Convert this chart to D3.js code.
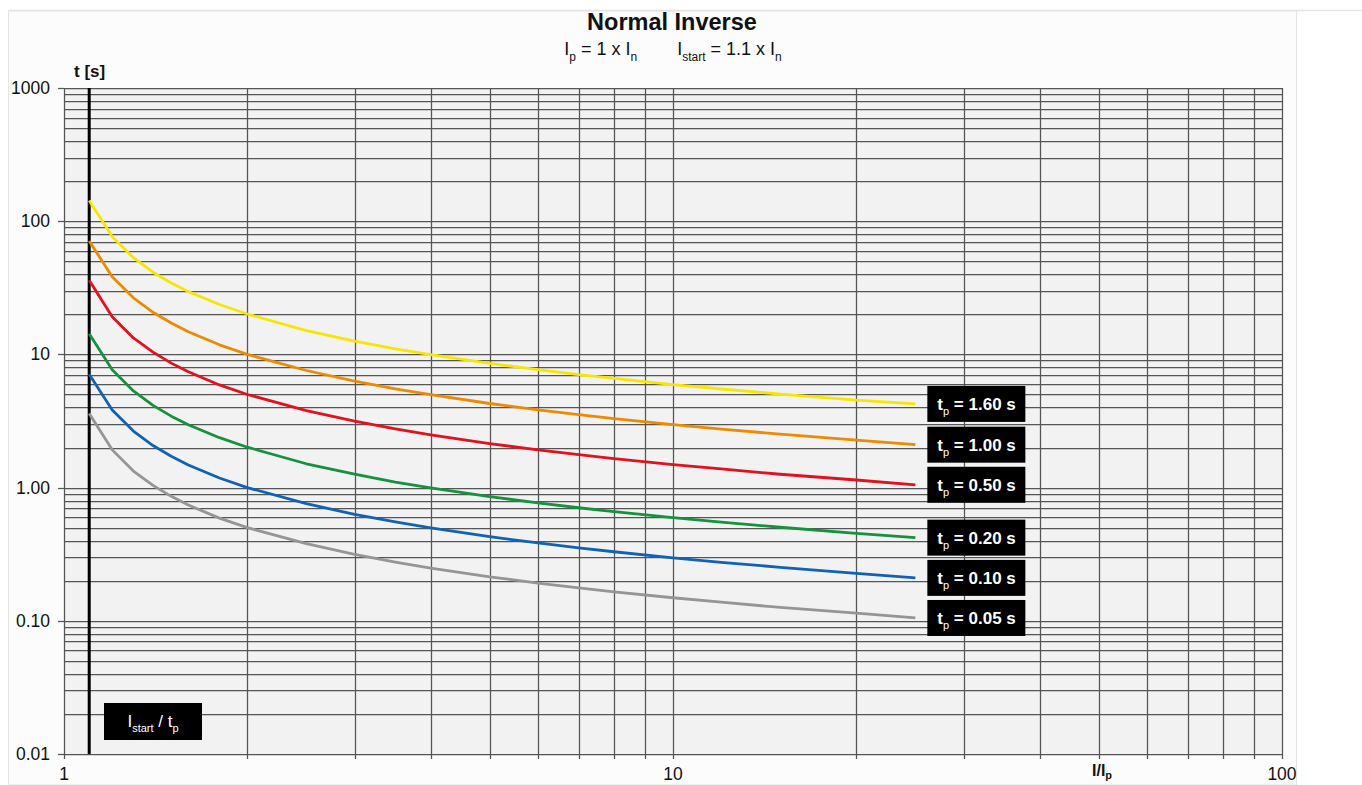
<!DOCTYPE html>
<html>
<head>
<meta charset="utf-8">
<script src="https://cdn.jsdelivr.net/npm/d3@7"></script>
<style>
  html, body { margin: 0; padding: 0; background: #ffffff; }
  svg { display: block; font-family: "Liberation Sans", Arial, sans-serif; }
</style>
</head>
<body>
<svg id="chart" width="1362" height="785"></svg>
<script>
// ---- Data ----
const currentRatio = [1.1, 1.2, 1.3, 1.4, 1.5, 1.6, 1.8, 2, 2.5, 3, 3.5, 4, 5, 6, 7, 8, 10, 12, 15, 20, 25];
const t_160 = [143, 76.6, 53.2, 41.4, 34.4, 29.6, 23.7, 20.1, 15.1, 12.6, 11.0, 9.96, 8.56, 7.68, 7.06, 6.60, 5.94, 5.50, 5.04, 4.54, 4.25];
const t_100 = [71, 38.3, 26.6, 20.7, 17.2, 14.8, 11.8, 10.0, 7.57, 6.30, 5.52, 4.98, 4.28, 3.84, 3.53, 3.30, 2.97, 2.75, 2.52, 2.27, 2.10];
const t_050 = [36, 19.2, 13.3, 10.4, 8.6, 7.4, 5.9, 5.0, 3.79, 3.15, 2.76, 2.49, 2.14, 1.92, 1.77, 1.65, 1.49, 1.38, 1.26, 1.14, 1.05];
const t_020 = [14.3, 7.66, 5.32, 4.14, 3.44, 2.96, 2.37, 2.01, 1.51, 1.26, 1.10, 0.996, 0.856, 0.768, 0.706, 0.660, 0.594, 0.550, 0.504, 0.454, 0.421];
const t_010 = [7.1, 3.83, 2.66, 2.07, 1.72, 1.48, 1.18, 1.00, 0.757, 0.630, 0.552, 0.498, 0.428, 0.384, 0.353, 0.330, 0.297, 0.275, 0.252, 0.227, 0.210];
const t_005 = [3.6, 1.92, 1.33, 1.04, 0.86, 0.74, 0.59, 0.50, 0.379, 0.315, 0.276, 0.249, 0.214, 0.192, 0.177, 0.165, 0.149, 0.138, 0.126, 0.114, 0.105];
const seriesLabels = ["1.60", "1.00", "0.50", "0.20", "0.10", "0.05"];
const seriesColors = ["#f7e600", "#ee8a00", "#e3101e", "#14923c", "#1062b6", "#959595"];
const yTickValues = [0.01, 0.1, 1, 10, 100, 1000];
const yTickLabels = ["0.01", "0.10", "1.00", "10", "100", "1000"];
const xTickValues = [1, 10, 100];
const xTickLabels = ["1", "10", "100"];
const startRatio = 1.1;

const series = [t_160, t_100, t_050, t_020, t_010, t_005];

// ---- Layout ----
const svg = d3.select("#chart");
const W = 1362, H = 785;
const plot = { left: 64, right: 1282, top: 88, bottom: 754 };

const x = d3.scaleLog().domain([1, 100]).range([plot.left, plot.right]);
const y = d3.scaleLog().domain([0.01, 1000]).range([plot.bottom, plot.top]);

// Outer panel
svg.append("rect").attr("x", 0).attr("y", 0).attr("width", W).attr("height", H).attr("fill", "#ffffff");
svg.append("line").attr("x1", 8).attr("x2", W).attr("y1", 10.5).attr("y2", 10.5).attr("stroke", "#e4e4e4").attr("stroke-width", 1.5);
svg.append("rect").attr("x", 8.5).attr("y", 11).attr("width", 1288).attr("height", H - 11)
  .attr("fill", "#fcfcfc").attr("stroke", "#e4e4e4").attr("stroke-width", 1);

// Plot background
svg.append("rect").attr("x", plot.left).attr("y", plot.top)
  .attr("width", plot.right - plot.left).attr("height", plot.bottom - plot.top)
  .attr("fill", "#f2f2f2");

// Grid values
const xGrid = [];
for (let d = 1; d < 100; d *= 10) for (let m = 1; m <= 9; m++) xGrid.push(d * m);
xGrid.push(100);
const yGrid = [];
for (let d = 0.01; d < 1000 - 1e-9; d *= 10) for (let m = 1; m <= 9; m++) yGrid.push(+(d * m).toPrecision(3));
yGrid.push(1000);

const grid = svg.append("g").attr("stroke", "#555555").attr("stroke-width", 1.25);
grid.selectAll("line.h").data(yGrid).join("line")
  .attr("x1", plot.left).attr("x2", plot.right)
  .attr("y1", d => Math.round(y(d)) + 0.5).attr("y2", d => Math.round(y(d)) + 0.5);
grid.selectAll("line.v").data(xGrid).join("line")
  .attr("y1", plot.top).attr("y2", plot.bottom + 5)
  .attr("x1", d => Math.round(x(d)) + 0.5).attr("x2", d => Math.round(x(d)) + 0.5);

// Y-axis ticks (left)
svg.append("g").attr("stroke", "#555555").attr("stroke-width", 1.25)
  .selectAll("line").data(yTickValues).join("line")
  .attr("x1", plot.left - 6).attr("x2", plot.left)
  .attr("y1", d => Math.round(y(d)) + 0.5).attr("y2", d => Math.round(y(d)) + 0.5);

// Y labels
svg.append("g").selectAll("text").data(yTickValues).join("text")
  .attr("x", 50).attr("y", d => y(d) + 6)
  .attr("text-anchor", "end").attr("font-size", 17.5).attr("fill", "#111")
  .text((d, i) => yTickLabels[i]);

// X labels
svg.append("g").selectAll("text").data(xTickValues).join("text")
  .attr("x", d => x(d)).attr("y", 780)
  .attr("text-anchor", "middle").attr("font-size", 17.5).attr("fill", "#111")
  .text((d, i) => xTickLabels[i]);

// Axis titles
svg.append("text").attr("x", 74).attr("y", 77).attr("font-size", 17).attr("font-weight", "bold").attr("fill", "#111").text("t [s]");
const xt = svg.append("text").attr("x", 1092).attr("y", 776).attr("font-size", 16).attr("font-weight", "bold").attr("fill", "#111");
xt.append("tspan").text("I/I");
xt.append("tspan").attr("font-size", 11).attr("dy", 3).text("p");

// Title
svg.append("text").attr("x", 672).attr("y", 30).attr("text-anchor", "middle")
  .attr("font-size", 23.5).attr("font-weight", "bold").attr("fill", "#111").text("Normal Inverse");
const sub = svg.append("text").attr("x", 673).attr("y", 55).attr("text-anchor", "middle")
  .attr("font-size", 18).attr("fill", "#111");
sub.append("tspan").text("I");
sub.append("tspan").attr("font-size", 12).attr("dy", 6).text("p");
sub.append("tspan").attr("dy", -6).text(" = 1 x I");
sub.append("tspan").attr("font-size", 12).attr("dy", 6).text("n");
sub.append("tspan").attr("dy", -6).text("\u00a0\u00a0\u00a0\u00a0\u00a0\u00a0\u00a0\u00a0I");
sub.append("tspan").attr("font-size", 12).attr("dy", 6).text("start");
sub.append("tspan").attr("dy", -6).text(" = 1.1 x I");
sub.append("tspan").attr("font-size", 12).attr("dy", 6).text("n");

// Start line (I_start)
svg.append("line").attr("x1", x(startRatio)).attr("x2", x(startRatio))
  .attr("y1", plot.top).attr("y2", plot.bottom).attr("stroke", "#000").attr("stroke-width", 3);

// Curves
const line = d3.line().x(d => x(d[0])).y(d => y(d[1]));
svg.append("g").selectAll("path").data(series).join("path")
  .attr("d", s => line(currentRatio.map((c, i) => [c, s[i]])))
  .attr("fill", "none").attr("stroke", (d, i) => seriesColors[i]).attr("stroke-width", 2.8)
  .attr("stroke-linejoin", "round");

// Labels at curve ends
const lastX = currentRatio[currentRatio.length - 1];
const labG = svg.append("g");
series.forEach((s, i) => {
  const cy = y(s[s.length - 1]);
  const bx = x(lastX) + 12;
  labG.append("rect").attr("x", bx).attr("y", cy - 18).attr("width", 98).attr("height", 36).attr("fill", "#000");
  const t = labG.append("text").attr("x", bx + 10).attr("y", cy + 6)
    .attr("font-size", 17).attr("font-weight", "bold").attr("fill", "#fff");
  t.append("tspan").text("t");
  t.append("tspan").attr("font-size", 11).attr("font-weight", "normal").attr("dy", 5).text("p");
  t.append("tspan").attr("dy", -5).text(" = " + seriesLabels[i] + " s");
});

// I_start / t_p box
svg.append("rect").attr("x", 104).attr("y", 703).attr("width", 98).attr("height", 37).attr("fill", "#000");
const bt = svg.append("text").attr("x", 153).attr("y", 727).attr("text-anchor", "middle")
  .attr("font-size", 17).attr("fill", "#fff");
bt.append("tspan").text("I");
bt.append("tspan").attr("font-size", 11).attr("dy", 5).text("start");
bt.append("tspan").attr("dy", -5).text(" / t");
bt.append("tspan").attr("font-size", 11).attr("dy", 5).text("p");
</script>
</body>
</html>
